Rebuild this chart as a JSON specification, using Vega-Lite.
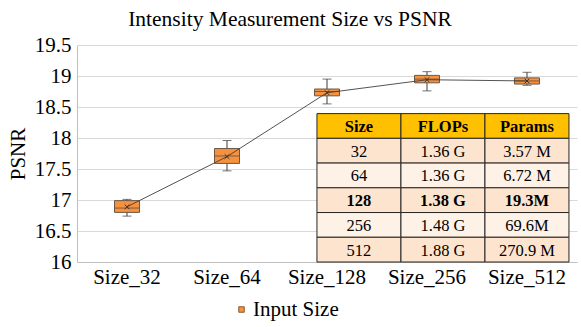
{
  "$schema": "https://vega.github.io/schema/vega-lite/v6.json",
  "width": 500,
  "height": 217,
  "autosize": {"type": "none"},
  "padding": {"left": 77, "top": 45, "right": 4, "bottom": 65},
  "title": {"text": "Intensity Measurement Size vs PSNR", "fontSize": 21.5, "font": "Liberation Serif", "fontWeight": "normal", "color": "#000000", "anchor": "middle", "dx": -37, "offset": 4},
  "config": {
    "view": {"stroke": null},
    "font": "Liberation Serif",
    "axisY": {"tickCount": 8, "format": "~g", "grid": true, "gridColor": "#d9d9d9", "ticks": false, "domainColor": "#bfbfbf", "labelFontSize": 21, "labelFont": "Liberation Serif", "labelColor": "#000000", "labelPadding": 6, "titleFontSize": 21, "titleFont": "Liberation Serif", "titleFontWeight": "normal", "titleColor": "#000000"}
  },
  "datasets": {
    "boxes": [
      {"size": "Size_32", "min": 16.74, "q1": 16.80, "median": 16.87, "q3": 16.99, "max": 17.01, "mean": 16.89, "series": "Input Size"},
      {"size": "Size_64", "min": 17.47, "q1": 17.59, "median": 17.71, "q3": 17.83, "max": 17.96, "mean": 17.70, "series": "Input Size"},
      {"size": "Size_128", "min": 18.55, "q1": 18.68, "median": 18.75, "q3": 18.79, "max": 18.95, "mean": 18.73, "series": "Input Size"},
      {"size": "Size_256", "min": 18.76, "q1": 18.89, "median": 18.95, "q3": 19.01, "max": 19.07, "mean": 18.94, "series": "Input Size"},
      {"size": "Size_512", "min": 18.85, "q1": 18.87, "median": 18.92, "q3": 18.97, "max": 19.06, "mean": 18.92, "series": "Input Size"}
    ],
    "table": [
      {"row": 0, "col": "Size", "text": "Size"},
      {"row": 0, "col": "FLOPs", "text": "FLOPs"},
      {"row": 0, "col": "Params", "text": "Params"},
      {"row": 1, "col": "Size", "text": "32"},
      {"row": 1, "col": "FLOPs", "text": "1.36 G"},
      {"row": 1, "col": "Params", "text": "3.57 M"},
      {"row": 2, "col": "Size", "text": "64"},
      {"row": 2, "col": "FLOPs", "text": "1.36 G"},
      {"row": 2, "col": "Params", "text": "6.72 M"},
      {"row": 3, "col": "Size", "text": "128"},
      {"row": 3, "col": "FLOPs", "text": "1.38 G"},
      {"row": 3, "col": "Params", "text": "19.3M"},
      {"row": 4, "col": "Size", "text": "256"},
      {"row": 4, "col": "FLOPs", "text": "1.48 G"},
      {"row": 4, "col": "Params", "text": "69.6M"},
      {"row": 5, "col": "Size", "text": "512"},
      {"row": 5, "col": "FLOPs", "text": "1.88 G"},
      {"row": 5, "col": "Params", "text": "270.9 M"}
    ]
  },
  "layer": [
    {
      "data": {"name": "boxes"},
      "encoding": {
        "x": {"field": "size", "type": "nominal", "sort": null,
          "scale": {"paddingInner": 0, "paddingOuter": 0},
          "axis": {"title": null, "labelAngle": 0, "labelFontSize": 21, "labelFont": "Liberation Serif", "labelColor": "#000000", "ticks": false, "domainColor": "#bfbfbf", "labelPadding": 4, "grid": false}}
      },
      "layer": [
        {
          "mark": {"type": "rule", "color": "#3a3a3a", "strokeWidth": 1},
          "encoding": {
            "y": {"field": "min", "type": "quantitative",
              "scale": {"domain": [16, 19.5], "nice": false, "zero": false},
              "axis": {"title": "PSNR", "titleX": -59, "titleY": 108.5, "titleAngle": -90, "titleAlign": "center", "titleBaseline": "middle"}},
            "y2": {"field": "max"}
          }
        },
        {
          "mark": {"type": "tick", "size": 9, "thickness": 1, "color": "#3a3a3a"},
          "encoding": {"y": {"field": "max", "type": "quantitative"}}
        },
        {
          "mark": {"type": "tick", "size": 9, "thickness": 1, "color": "#3a3a3a"},
          "encoding": {"y": {"field": "min", "type": "quantitative"}}
        },
        {
          "mark": {"type": "bar", "size": 25, "stroke": "#6b5846", "strokeWidth": 1},
          "encoding": {
            "y": {"field": "q1", "type": "quantitative"},
            "y2": {"field": "q3"},
            "color": {"field": "series", "type": "nominal", "scale": {"range": ["#F6913F"]},
              "legend": {"title": null, "orient": "none", "legendX": 154, "legendY": 254, "labelFontSize": 21, "labelFont": "Liberation Serif", "labelColor": "#000000", "symbolType": "square", "symbolSize": 30, "symbolStrokeColor": "#8a5a2e", "symbolStrokeWidth": 1, "labelOffset": 1}}
          }
        },
        {
          "mark": {"type": "tick", "size": 25, "thickness": 1, "color": "#5a4030"},
          "encoding": {"y": {"field": "median", "type": "quantitative"}}
        },
        {
          "mark": {"type": "line", "color": "#404040", "strokeWidth": 0.9},
          "encoding": {"y": {"field": "mean", "type": "quantitative"}}
        },
        {
          "mark": {"type": "point", "shape": "M-1,-1L1,1M-1,1L1,-1", "size": 22, "filled": false, "stroke": "#333333", "strokeWidth": 1, "opacity": 1},
          "encoding": {"y": {"field": "mean", "type": "quantitative"}}
        }
      ]
    },
    {
      "data": {"name": "table"},
      "encoding": {
        "x": {"field": "col", "type": "nominal",
          "scale": {"domain": ["_", "Size", "FLOPs", "Params"], "paddingInner": 0, "paddingOuter": 0.976, "align": 0.951}, "axis": null},
        "y": {"field": "row", "type": "ordinal",
          "scale": {"domain": [-1, 0, 1, 2, 3, 4, 5], "paddingInner": 0, "paddingOuter": 0.8875, "align": 1}, "axis": null}
      },
      "layer": [
        {
          "mark": {"type": "rect", "stroke": "#262626", "strokeWidth": 1},
          "encoding": {
            "fill": {"field": "row", "type": "ordinal",
              "scale": {"domain": [0, 1, 2, 3, 4, 5], "range": ["#FFC000", "#FCE4CF", "#FEF2E7", "#FCE4CF", "#FEF2E7", "#FCE4CF"]},
              "legend": null}
          }
        },
        {
          "transform": [{"filter": "datum.row != 0 && datum.row != 3"}],
          "mark": {"type": "text", "fontSize": 16.5, "font": "Liberation Serif", "color": "#000000", "baseline": "middle", "dy": 1},
          "encoding": {"text": {"field": "text", "type": "nominal"}}
        },
        {
          "transform": [{"filter": "datum.row == 0 || datum.row == 3"}],
          "mark": {"type": "text", "fontSize": 16.5, "font": "Liberation Serif", "fontWeight": "bold", "color": "#000000", "baseline": "middle", "dy": 1},
          "encoding": {"text": {"field": "text", "type": "nominal"}}
        }
      ]
    }
  ],
  "resolve": {"scale": {"x": "independent", "y": "independent", "fill": "independent", "color": "independent"}}
}
